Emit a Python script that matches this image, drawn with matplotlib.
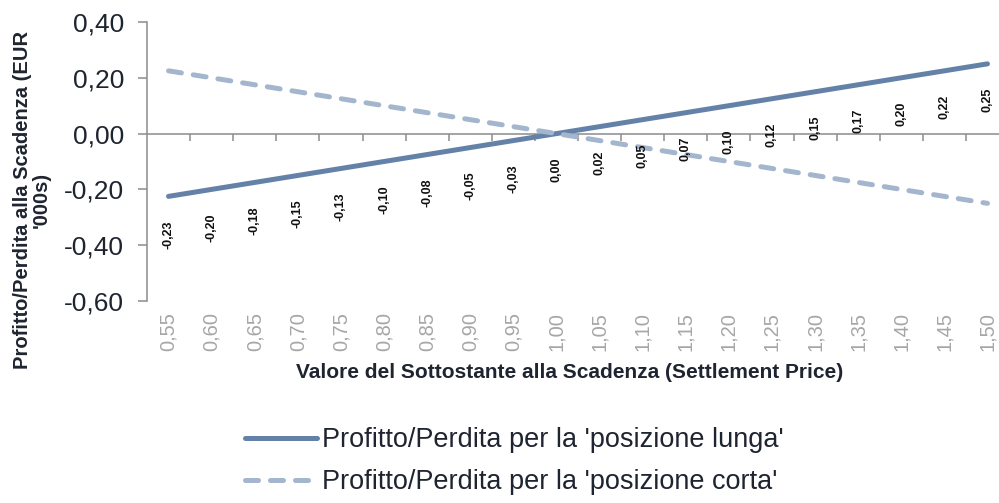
import numpy as np
import matplotlib.pyplot as plt
from matplotlib.lines import Line2D

# settlement prices (categories)
prices = ['0,55', '0,60', '0,65', '0,70', '0,75', '0,80', '0,85', '0,90', '0,95', '1,00',
          '1,05', '1,10', '1,15', '1,20', '1,25', '1,30', '1,35', '1,40', '1,45', '1,50']
# profit / loss in EUR '000s
long_pl = [-0.225, -0.200, -0.175, -0.150, -0.125, -0.100, -0.075, -0.050, -0.025, 0.000,
           0.025, 0.050, 0.075, 0.100, 0.125, 0.150, 0.175, 0.200, 0.225, 0.250]
short_pl = [0.225, 0.200, 0.175, 0.150, 0.125, 0.100, 0.075, 0.050, 0.025, 0.000,
            -0.025, -0.050, -0.075, -0.100, -0.125, -0.150, -0.175, -0.200, -0.225, -0.250]
long_labels = ['-0,23', '-0,20', '-0,18', '-0,15', '-0,13', '-0,10', '-0,08', '-0,05', '-0,03', '0,00',
               '0,02', '0,05', '0,07', '0,10', '0,12', '0,15', '0,17', '0,20', '0,22', '0,25']
yticks = [0.40, 0.20, 0.00, -0.20, -0.40, -0.60]

c_long = '#6482a8'
c_short = '#a3b6ce'
c_axis = '#8c8c8c'
c_text = '#1e2430'

plt.rcParams['font.family'] = ['Liberation Sans', 'DejaVu Sans']

fig = plt.figure(figsize=(9.99, 5.03), dpi=100)
ax = fig.add_axes([147 / 999, 1 - 301 / 503, 862 / 999, 279 / 503])

x = np.arange(len(prices))
ax.plot(x, long_pl, color=c_long, lw=3.6, solid_capstyle='round', zorder=3)
ax.plot(x, short_pl, color=c_short, lw=3.6, dashes=(2.6, 2.4), dash_capstyle='round', zorder=3)

for xi, yi, lab in zip(x, long_pl, long_labels):
    ax.annotate(lab, (xi, yi), xytext=(0, -17.3), textcoords='offset points',
                rotation=90, ha='center', va='top', fontsize=9, fontweight='bold', color='#111111')

ax.set_xlim(-0.5, 19.5)
ax.set_ylim(-0.60, 0.40)
ax.set_yticks(yticks)
ax.set_yticklabels([f'{v:.2f}'.replace('.', ',') for v in yticks])

for s in ['top', 'right']:
    ax.spines[s].set_visible(False)
ax.spines['left'].set_color(c_axis)
ax.spines['left'].set_linewidth(1.1)
ax.spines['bottom'].set_position(('data', 0))
ax.spines['bottom'].set_color(c_axis)
ax.spines['bottom'].set_linewidth(1.1)

ax.tick_params(axis='y', direction='out', length=6.5, width=1.1, color=c_axis,
               labelsize=19, labelcolor=c_text, pad=10)
ax.set_xticks(np.arange(0.5, 20, 1))
ax.tick_params(axis='x', direction='out', length=5, width=1.1, color=c_axis, labelbottom=False)

sec = ax.secondary_xaxis(0)
sec.set_xticks(x)
sec.set_xticklabels(prices, rotation=90)
sec.tick_params(length=0, labelsize=14.5, labelcolor='#a6a6a6', pad=8)
sec.spines['bottom'].set_visible(False)

fig.text(570 / 999, 1 - 373 / 503, 'Valore del Sottostante alla Scadenza (Settlement Price)',
         ha='center', va='center', fontsize=15, fontweight='bold', color=c_text)
fig.text(0.032, 1 - 200 / 503, "Profitto/Perdita alla Scadenza (EUR\n'000s)", rotation=90,
         ha='center', va='center', fontsize=14.5, fontweight='bold', color=c_text,
         multialignment='center', linespacing=1.0)

handles = [Line2D([], [], color=c_long, lw=3.6, solid_capstyle='round'),
           Line2D([], [], color=c_short, lw=3.6, dashes=(2.6, 2.4), dash_capstyle='round')]
fig.legend(handles, ["Profitto/Perdita per la 'posizione lunga'", "Profitto/Perdita per la 'posizione corta'"],
           loc='upper left', bbox_to_anchor=(245 / 999, 1 - 427 / 503), frameon=False,
           fontsize=19.5, labelcolor=c_text, handlelength=2.65, handletextpad=0.2,
           labelspacing=0.6, borderpad=0, borderaxespad=0)

fig.savefig('out.png', dpi=100)
